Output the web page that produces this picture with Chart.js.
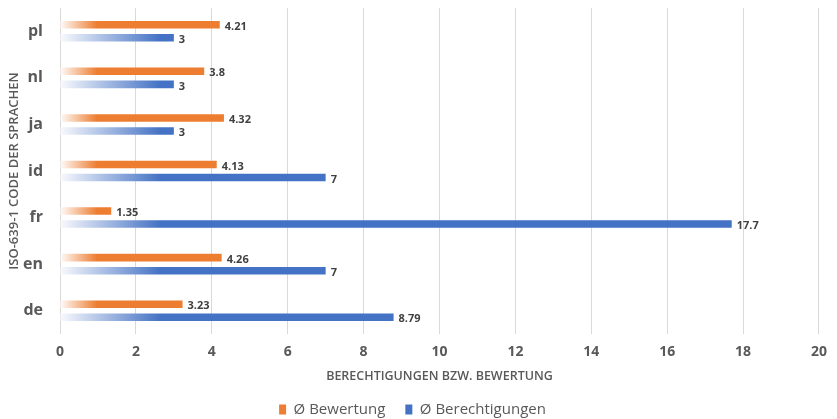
<!DOCTYPE html>
<html>
<head>
<meta charset="utf-8">
<script src="https://cdn.jsdelivr.net/npm/chart.js@4/dist/chart.umd.min.js"></script>
<style>
  html, body { margin: 0; padding: 0; background: #fff; }
  #wrap { width: 837px; height: 419px; }
</style>
</head>
<body>
<div id="wrap"><canvas id="myChart"></canvas></div>
<script>
const languages = ['pl', 'nl', 'ja', 'id', 'fr', 'en', 'de'];
const ratingAvg = [4.21, 3.8, 4.32, 4.13, 1.35, 4.26, 3.23];
const permissionAvg = [3, 3, 3, 7, 17.7, 7, 8.79];
const seriesNames = ['Ø Bewertung', 'Ø Berechtigungen'];
const xTicks = [0, 2, 4, 6, 8, 10, 12, 14, 16, 18, 20];

const textGrey = '#595959';
const fontFamily = "'Open Sans', 'Noto Sans', sans-serif";
const seriesRgb = [[237, 125, 49], [68, 114, 196]];

// each bar fades in from near white at its base, full colour after ~30% of its length
const fadeBars = {
  id: 'fadeBars',
  beforeDatasetsDraw(chart) {
    const c = chart.ctx;
    chart.data.datasets.forEach((ds, i) => {
      const [r, g, b] = seriesRgb[i];
      const light = [r, g, b].map(v => Math.round(255 - (255 - v) * 0.04)).join(',');
      chart.getDatasetMeta(i).data.forEach((bar) => {
        const grad = c.createLinearGradient(bar.base, 0, bar.x, 0);
        grad.addColorStop(0, `rgb(${light})`);
        grad.addColorStop(0.3, `rgb(${r},${g},${b})`);
        grad.addColorStop(1, `rgb(${r},${g},${b})`);
        bar.options.backgroundColor = grad;
      });
    });
  }
};

const valueLabels = {
  id: 'valueLabels',
  afterDatasetsDraw(chart) {
    const c = chart.ctx;
    c.save();
    c.font = `bold 11px ${fontFamily}`;
    c.fillStyle = '#404040';
    c.textBaseline = 'middle';
    chart.data.datasets.forEach((ds, i) => {
      chart.getDatasetMeta(i).data.forEach((bar, j) => {
        c.fillText(String(ds.data[j]), bar.x + 5, bar.y + 2);
      });
    });
    c.restore();
  }
};

new Chart(document.getElementById('myChart'), {
  type: 'bar',
  data: {
    labels: languages,
    datasets: [
      {
        label: seriesNames[0],
        data: ratingAvg,
        backgroundColor: 'rgb(237,125,49)',
        borderWidth: 0
      },
      {
        label: seriesNames[1],
        data: permissionAvg,
        backgroundColor: 'rgb(68,114,196)',
        borderWidth: 0
      }
    ]
  },
  options: {
    indexAxis: 'y',
    responsive: true,
    maintainAspectRatio: false,
    animation: false,
    layout: { padding: { left: 0, right: 12, top: 8, bottom: -8 } },
    datasets: { bar: { categoryPercentage: 0.56, barPercentage: 0.58 } },
    scales: {
      x: {
        min: 0,
        max: 20,
        afterBuildTicks: (s) => { s.ticks = xTicks.map(v => ({ value: v })); },
        afterFit: (s) => { s.height = 48; },
        grid: { color: '#d9d9d9', drawTicks: false },
        border: { display: false },
        ticks: { color: textGrey, padding: 10, font: { family: fontFamily, size: 14, weight: 'bold' } },
        title: {
          display: true,
          text: 'BERECHTIGUNGEN BZW. BEWERTUNG',
          color: textGrey,
          padding: { top: 0, bottom: -2 },
          font: { family: fontFamily, size: 12.5, weight: '600' }
        }
      },
      y: {
        grid: { display: false },
        border: { display: false },
        afterFit: (s) => { s.width = 60; s.paddingTop = 0; s.paddingBottom = 0; },
        ticks: { color: textGrey, padding: 9, font: { family: fontFamily, size: 16, weight: 'bold' } },
        title: {
          display: true,
          text: 'ISO-639-1 CODE DER SPRACHEN',
          color: textGrey,
          padding: { top: 6, bottom: 0 },
          font: { family: fontFamily, size: 13, weight: '600' }
        }
      }
    },
    plugins: {
      legend: {
        position: 'bottom',
        labels: {
          color: textGrey,
          boxWidth: 7,
          boxHeight: 10,
          padding: 20,
          font: { family: fontFamily, size: 15 },
          generateLabels: (chart) => chart.data.datasets.map((ds, i) => ({
            text: ds.label,
            fillStyle: `rgb(${seriesRgb[i].join(',')})`,
            strokeStyle: 'transparent',
            lineWidth: 0,
            datasetIndex: i,
            fontColor: textGrey
          }))
        }
      },
      tooltip: { enabled: false }
    }
  },
  plugins: [fadeBars, valueLabels]
});
</script>
</body>
</html>
